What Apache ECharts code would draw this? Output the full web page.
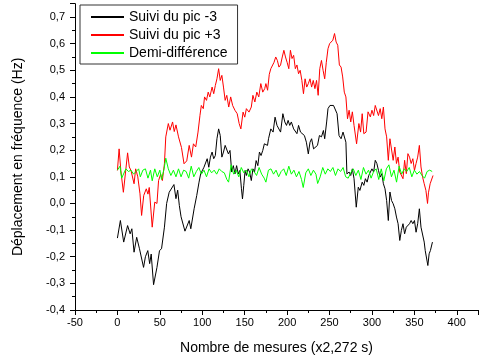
<!DOCTYPE html>
<html>
<head>
<meta charset="utf-8">
<script src="https://cdn.jsdelivr.net/npm/echarts@6/dist/echarts.min.js"></script>
<style>
  html, body { margin: 0; padding: 0; background: #fff; }
  #main { width: 481px; height: 361px; }
</style>
</head>
<body>
<div id="main"></div>
<script>
var seriesNames = ['Suivi du pic -3', 'Suivi du pic +3', 'Demi-différence'];

var picMoins3 = [
  [0,-0.13],[3.5,-0.064],[7.4,-0.145],[12,-0.083],[15,-0.114],[17,-0.095],[19.6,-0.183],[22.7,-0.127],
  [26,-0.17],[30.8,-0.24],[33,-0.2],[35.8,-0.177],[38,-0.226],[39.8,-0.19],[42.6,-0.305],[46.6,-0.24],
  [49.6,-0.177],[52,-0.17],[55.4,-0.089],[58,0.0],[61,0.042],[63,0.035],[66.6,0.071],[69,0.018],
  [71,0.05],[73,-0.008],[75,-0.05],[79.6,-0.104],[84.6,-0.064],[86.5,-0.095],[90.4,-0.02],[93.5,0.03],
  [96.2,0.08],[98.1,0.111],[100,0.118],[102,0.136],[103.9,0.13],[105.8,0.168],[107.7,0.136],[109.6,0.174],
  [111.6,0.193],[113.5,0.168],[115.4,0.18],[117.3,0.243],[119.3,0.28],[121.2,0.255],[123.1,0.174],[125,0.193],
  [127,0.218],[128.9,0.224],[130.8,0.186],[132.7,0.199],[134.7,0.118],[136.6,0.142],[138.5,0.111],[140.5,0.142],
  [142.4,0.111],[144.3,0.124],[146.2,0.055],[147.4,0.017],[148.9,0.068],[150.5,0.124],[152,0.105],[154,0.13],
  [155.8,0.118],[157.8,0.086],[159.7,0.13],[161.6,0.118],[163.5,0.161],[165.5,0.142],[167.4,0.193],[169.3,0.18],
  [171.3,0.199],[173.2,0.224],[175.1,0.23],[176.9,0.218],[178.1,0.243],[180.8,0.28],[183.5,0.268],[185.8,0.324],
  [188.1,0.293],[190.4,0.287],[192.3,0.268],[195,0.337],[197.3,0.306],[199.3,0.293],[201.2,0.312],[203.1,0.293],
  [205,0.306],[207.7,0.28],[209.7,0.287],[211.6,0.262],[213.5,0.293],[215.8,0.268],[218.1,0.274],[220.4,0.255],
  [222.7,0.23],[225,0.186],[227,0.23],[228.9,0.243],[231.2,0.205],[233.5,0.199],[235.8,0.218],[238.1,0.255],
  [240.5,0.25],[242.8,0.274],[244.3,0.243],[246.6,0.306],[248.2,0.356],[250.5,0.368],[252.8,0.362],[254.7,0.368],
  [256.6,0.362],[258.9,0.337],[261.2,0.255],[263.6,0.243],[265.9,0.268],[268.2,0.262],[269.3,0.23],[270.5,0.111],
  [271.2,0.105],[273.1,0.118],[275,0.105],[276.9,0.13],[278.9,0.093],[281.5,-0.014],[283.9,0.061],[285.8,0.049],
  [288.5,0.08],[290.4,0.068],[292.3,0.093],[294.3,0.08],[296.2,0.105],[298.1,0.099],[300,0.13],[302,0.118],
  [303.9,0.162],[305.8,0.15],[307.7,0.124],[309.7,0.099],[311.6,0.112],[313.5,0.074],[315.4,0.055],[317.3,0.011],
  [319.3,-0.064],[321.2,0.043],[323.1,0.011],[325,-0.001],[327,-0.02],[328.9,-0.051],[330.8,-0.076],[332.8,-0.139],
  [334.7,-0.101],[336.6,-0.076],[338.5,-0.114],[340.5,-0.089],[342.4,-0.095],[344.3,-0.076],[346.2,-0.064],[348.2,-0.076],
  [350.1,-0.064],[352,-0.108],[353.9,-0.076],[355.9,-0.02],[357.8,-0.089],[359.7,-0.095],[361.6,-0.145],[362.8,-0.177],
  [364.3,-0.17],[365.9,-0.233],[367.4,-0.189],[368.9,-0.177],[371.3,-0.145]
];

var picPlus3 = [
  [0,0.124],[2,0.205],[4,0.124],[7,0.042],[10,0.13],[12,0.19],[14,0.137],[16,0.124],
  [19.6,0.074],[21.5,0.13],[24,0.10],[26.6,0.036],[28.5,-0.045],[31,0.03],[34,0.055],[36,0.035],
  [37.5,0.06],[41,-0.089],[44,0.005],[46.6,0.0],[48.5,0.086],[51,0.11],[53,0.086],[55.4,0.149],
  [57,0.25],[60,0.30],[62,0.275],[65,0.306],[67,0.27],[69,0.295],[72,0.25],[75.5,0.21],
  [78.5,0.149],[81.7,0.16],[84.6,0.218],[87.3,0.174],[89.6,0.224],[92.3,0.212],[95,0.268],[97.3,0.331],
  [98.9,0.368],[101.2,0.356],[102.7,0.40],[105,0.387],[107,0.418],[108.9,0.40],[111.6,0.437],[113.5,0.412],
  [115.4,0.443],[117.3,0.468],[119.3,0.506],[121.2,0.462],[123.1,0.481],[125,0.437],[127,0.387],[128.9,0.406],
  [131.2,0.362],[133.5,0.40],[135.8,0.368],[138.5,0.35],[141.2,0.337],[143.5,0.30],[145.5,0.28],[148.1,0.343],
  [150.1,0.324],[152,0.356],[155.1,0.343],[157.8,0.362],[159.7,0.406],[162,0.381],[164.3,0.418],[166.6,0.40],
  [169,0.45],[171.3,0.418],[173.6,0.431],[175,0.45],[177,0.425],[179,0.485],[180.8,0.506],[182.7,0.512],
  [184.6,0.53],[186.6,0.55],[188.5,0.537],[190.4,0.512],[192.3,0.52],[194.3,0.55],[196.2,0.575],[198.1,0.55],
  [200,0.53],[202,0.506],[203.9,0.575],[205.8,0.544],[207.7,0.556],[209.7,0.506],[211.6,0.52],[213.5,0.487],
  [215.4,0.50],[217.4,0.462],[219.3,0.412],[221.2,0.468],[223.1,0.437],[225,0.45],[227,0.468],[228.9,0.437],
  [230.8,0.462],[232.8,0.431],[234.7,0.462],[236.6,0.406],[238.5,0.506],[240.5,0.537],[242.4,0.50],[244.3,0.468],
  [246.2,0.53],[248.2,0.581],[250.1,0.60],[252,0.594],[253.9,0.613],[255.9,0.638],[257.8,0.606],[259.7,0.594],
  [261.6,0.52],[263.6,0.512],[265.5,0.475],[267.4,0.418],[269.3,0.40],[271.2,0.318],[273.1,0.35],[275,0.306],
  [276.9,0.344],[278.9,0.293],[281.9,0.224],[284.6,0.30],[286.6,0.268],[288.5,0.337],[290.4,0.262],[293.1,0.268],
  [295.4,0.344],[298.1,0.325],[300,0.35],[302,0.33],[303.9,0.368],[305.8,0.375],[307.7,0.33],[309.7,0.356],
  [311.6,0.318],[313.5,0.362],[315.4,0.28],[317.3,0.25],[319.3,0.162],[321.2,0.243],[323.1,0.25],[325,0.162],
  [327,0.212],[328.9,0.15],[330.8,0.174],[332.8,0.118],[334.7,0.124],[336.6,0.093],[338.5,0.162],[340.5,0.112],
  [342.4,0.187],[344.3,0.174],[346.2,0.15],[348.2,0.168],[350.1,0.124],[352,0.15],[353.9,0.174],[355.9,0.218],
  [357.8,0.137],[359.7,0.099],[361.6,0.074],[363.6,0.049],[365.5,0.0],[366.6,0.04],[368.6,0.074],[370.5,0.068],
  [372,0.105]
];

var demiDiff = [
  [0,0.125],[3,0.14],[5,0.095],[7,0.09],[10,0.13],[13,0.12],[16,0.125],[19,0.11],[22,0.12],[25,0.13],
  [27,0.10],[30,0.125],[33,0.13],[36,0.095],[39,0.125],[41,0.085],[44,0.13],[47,0.10],[50,0.125],[52,0.09],
  [55,0.13],[57,0.17],[60,0.13],[63,0.105],[66,0.125],[69,0.10],[72,0.13],[75,0.10],[78,0.125],[81,0.12],
  [84,0.095],[87,0.14],[90,0.10],[93,0.12],[96,0.135],[99,0.11],[102,0.125],[105,0.10],[108,0.13],[111,0.115],
  [114,0.125],[117,0.11],[120,0.13],[123,0.12],[126,0.115],[129,0.09],[131,0.08],[134,0.145],[137,0.11],[140,0.125],
  [143,0.10],[146,0.135],[149,0.115],[152,0.125],[155,0.10],[158,0.13],[161,0.12],[164,0.105],[167,0.135],[170,0.11],
  [173,0.095],[175,0.08],[178,0.125],[181,0.13],[184,0.11],[187,0.125],[190,0.10],[193,0.12],[196,0.13],[199,0.105],
  [202,0.14],[205,0.11],[208,0.125],[211,0.10],[214,0.12],[217,0.09],[219,0.06],[222,0.115],[225,0.13],[228,0.105],
  [231,0.125],[234,0.11],[236,0.075],[239,0.10],[242,0.135],[245,0.11],[248,0.13],[251,0.12],[254,0.135],[257,0.105],
  [260,0.13],[263,0.12],[266,0.135],[269,0.10],[272,0.095],[275,0.115],[278,0.13],[281,0.105],[284,0.125],[287,0.09],
  [290,0.135],[293,0.11],[296,0.125],[299,0.095],[302,0.12],[305,0.13],[308,0.09],[311,0.13],[314,0.085],[317,0.13],
  [320,0.145],[323,0.10],[326,0.125],[329,0.08],[332,0.14],[335,0.11],[338,0.13],[341,0.12],[344,0.135],[347,0.10],
  [350,0.125],[353,0.11],[356,0.12],[359,0.105],[362,0.095],[365,0.12],[368,0.125],[371,0.12]
];

var font = '"Liberation Sans", Arial, sans-serif';

function commaLabel(v) {
  if (Math.abs(v * 10 - Math.round(v * 10)) > 1e-6) return '';
  return v.toFixed(1).replace('.', ',');
}

var chart = echarts.init(document.getElementById('main'));

var option = {
  backgroundColor: '#fff',
  animation: false,
  grid: {
    left: 75,
    top: 3.7,
    width: 411.7,
    height: 306.3,
    containLabel: false
  },
  legend: {
    orient: 'vertical',
    left: 80,
    top: 5,
    padding: [5, 10, 4, 10],
    itemWidth: 33,
    itemHeight: 14,
    itemGap: 4,
    borderColor: '#333',
    borderWidth: 1,
    data: seriesNames,
    itemStyle: { opacity: 0 },
    textStyle: { fontFamily: font, fontSize: 14, color: '#000' }
  },
  xAxis: {
    type: 'value',
    min: -50,
    max: 425,
    interval: 50,
    name: 'Nombre de mesures (x2,272 s)',
    nameLocation: 'middle',
    nameGap: 31,
    nameTextStyle: { fontFamily: font, fontSize: 14, color: '#000' },
    axisLine: { onZero: false, lineStyle: { color: '#000', width: 1 } },
    axisTick: { length: 5, lineStyle: { color: '#000' } },
    minorTick: { show: true, splitNumber: 2, length: 3, lineStyle: { color: '#000' } },
    splitLine: { show: false },
    axisLabel: {
      margin: 7,
      fontFamily: font,
      fontSize: 11,
      color: '#000',
      formatter: function (v) { return v % 50 === 0 ? String(v) : ''; }
    }
  },
  yAxis: {
    type: 'value',
    min: -0.4,
    max: 0.75,
    interval: 0.1,
    name: 'Déplacement en fréquence (Hz)',
    nameLocation: 'middle',
    nameGap: 50,
    nameTextStyle: { fontFamily: font, fontSize: 14, color: '#000' },
    axisLine: { show: true, onZero: false, lineStyle: { color: '#000', width: 1 } },
    axisTick: { show: true, length: 5, lineStyle: { color: '#000' } },
    minorTick: { show: true, splitNumber: 2, length: 3, lineStyle: { color: '#000' } },
    splitLine: { show: false },
    axisLabel: {
      margin: 10,
      fontFamily: font,
      fontSize: 11,
      color: '#000',
      formatter: commaLabel
    }
  },
  series: [
    {
      name: seriesNames[0],
      type: 'line',
      data: picMoins3,
      symbol: 'none',
      lineStyle: { color: '#000000', width: 1 },
      itemStyle: { color: '#000000' }
    },
    {
      name: seriesNames[1],
      type: 'line',
      data: picPlus3,
      symbol: 'none',
      lineStyle: { color: '#ff0000', width: 1 },
      itemStyle: { color: '#ff0000' }
    },
    {
      name: seriesNames[2],
      type: 'line',
      data: demiDiff,
      symbol: 'none',
      lineStyle: { color: '#00ff00', width: 1 },
      itemStyle: { color: '#00ff00' }
    }
  ]
};

chart.setOption(option);
</script>
</body>
</html>
